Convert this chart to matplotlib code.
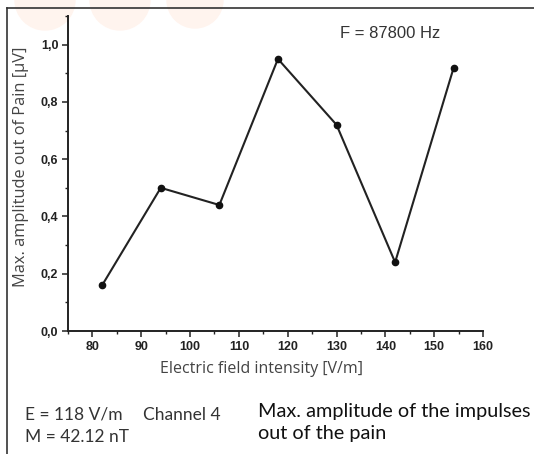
import matplotlib.pyplot as plt
from matplotlib.ticker import MultipleLocator, FuncFormatter
from matplotlib.patches import Ellipse
from matplotlib.lines import Line2D

# Dados
field = [82, 94, 106, 118, 130, 142, 154]
amplitude = [0.16, 0.50, 0.44, 0.95, 0.72, 0.24, 0.92]
x_ticks = [80, 90, 100, 110, 120, 130, 140, 150, 160]
y_ticks = [0.0, 0.2, 0.4, 0.6, 0.8, 1.0]

W, H = 534, 454
fig = plt.figure(figsize=(W / 100, H / 100), dpi=100)
fig.patch.set_facecolor("white")

# marca d'agua leve no topo
for cx, cy, r in [(45, 0, 30), (120, 0, 30), (195, 0, 28)]:
    fig.patches.append(Ellipse((cx / W, 1 - cy / H), 2 * r / W, 2 * r / H,
                               transform=fig.transFigure, color="#fff4ee", zorder=-5))

# moldura
fig.lines.append(Line2D([7 / W, 7 / W], [0, 1 - 8 / H], transform=fig.transFigure,
                        color="#333333", lw=1.2))
fig.lines.append(Line2D([7 / W, 1], [1 - 8 / H, 1 - 8 / H], transform=fig.transFigure,
                        color="#333333", lw=1.2))

ax = fig.add_axes([68 / W, 1 - 331 / H, (483 - 68) / W, (331 - 16) / H])
ax.set_facecolor("none")
ax.plot(field, amplitude, color="#222222", lw=1.5, marker="o", ms=4.5,
        markerfacecolor="#111111", markeredgecolor="#111111")

ax.set_xlim(75, 160)
ax.set_ylim(0, 1.1)
ax.spines["top"].set_visible(False)
ax.spines["right"].set_visible(False)
for s in ("left", "bottom"):
    ax.spines[s].set_color("#222222")
    ax.spines[s].set_linewidth(1.4)

ax.set_xticks(x_ticks)
ax.set_yticks(y_ticks)
ax.xaxis.set_minor_locator(MultipleLocator(5))
ax.yaxis.set_minor_locator(MultipleLocator(0.1))
ax.yaxis.set_major_formatter(FuncFormatter(lambda v, p: f"{v:.1f}".replace(".", ",")))
ax.tick_params(which="major", direction="out", length=4, width=1.1, color="#222222",
               labelsize=9, labelcolor="#222222", pad=3)
ax.tick_params(which="minor", direction="out", length=2, width=1.0, color="#222222")
for lab in ax.get_xticklabels() + ax.get_yticklabels():
    lab.set_fontfamily("Liberation Sans")
    lab.set_fontweight("bold")

ax.set_xlabel("Electric field intensity [V/m]", fontsize=11.5, color="#444444",
              family="Open Sans")
ax.xaxis.set_label_coords((261 - 68) / (483 - 68), -0.095)
ax.set_ylabel("Max. amplitude out of Pain [µV]", fontsize=11.8, color="#444444",
              family="Open Sans")
ax.yaxis.set_label_coords(-0.094, (331 - 167) / (331 - 16))

fig.text(340 / W, 1 - 33 / H, "F = 87800 Hz", fontsize=12, color="#333333",
         family="Liberation Sans", va="center", ha="left")

fig.text(25 / W, 1 - 415 / H, "E = 118 V/m", fontsize=12.5, color="#333333",
         family="Lato", va="center")
fig.text(143 / W, 1 - 415 / H, "Channel 4", fontsize=12.5, color="#333333",
         family="Lato", va="center")
fig.text(25 / W, 1 - 437 / H, "M = 42.12 nT", fontsize=12.5, color="#333333",
         family="Lato", va="center")
fig.text(258 / W, 1 - 412 / H, "Max. amplitude of the impulses", fontsize=14.3,
         color="#111111", family="Lato", va="center")
fig.text(258 / W, 1 - 434 / H, "out of the pain", fontsize=14.3,
         color="#111111", family="Lato", va="center")

fig.savefig("out.png", dpi=100)
